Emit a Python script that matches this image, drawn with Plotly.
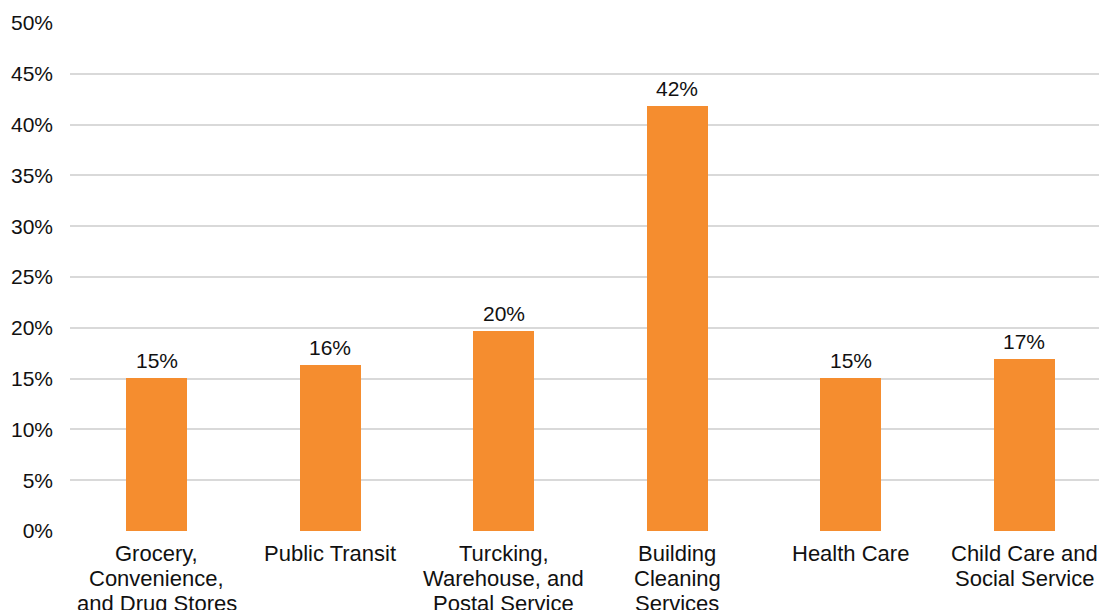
import plotly.graph_objects as go

categories = [
    "Grocery,<br>Convenience,<br>and Drug Stores",
    "Public Transit",
    "Turcking,<br>Warehouse, and<br>Postal Service",
    "Building<br>Cleaning<br>Services",
    "Health Care",
    "Child Care and<br>Social Service",
]
values = [0.1505, 0.1635, 0.197, 0.418, 0.1505, 0.1695]
y_ticks = [0, 0.05, 0.10, 0.15, 0.20, 0.25, 0.30, 0.35, 0.40, 0.45, 0.50]
y_tick_labels = ["0%", "5%", "10%", "15%", "20%", "25%", "30%", "35%", "40%", "45%", "50%"]

FONT = "Liberation Sans, Arial, Helvetica, sans-serif"
TXT = "#111111"

xs = list(range(len(categories)))

fig = go.Figure(
    go.Bar(
        x=xs,
        y=values,
        width=0.35,
        marker=dict(color="#F58D2F", line=dict(width=0)),
        hovertemplate="%{y:.1%}<extra></extra>",
    )
)

annotations = []
# value labels above bars
for x, v in zip(xs, values):
    annotations.append(dict(
        x=x, y=v, xref="x", yref="y", text=f"{v:.0%}", showarrow=False,
        yanchor="bottom", yshift=4, font=dict(family=FONT, size=21, color=TXT),
    ))
# category labels, one line each, tighter line spacing
LINE = 25
for x, cat in zip(xs, categories):
    for j, line in enumerate(cat.split("<br>")):
        annotations.append(dict(
            x=x, y=0, xref="x", yref="y", text=line, showarrow=False,
            yanchor="top", yshift=-8 - LINE * j,
            font=dict(family=FONT, size=22, color=TXT),
        ))

fig.update_layout(
    width=1099,
    height=610,
    margin=dict(l=70, r=0, t=23, b=79, autoexpand=False),
    paper_bgcolor="white",
    plot_bgcolor="white",
    showlegend=False,
    font=dict(family=FONT, size=20, color=TXT),
    bargap=0,
    annotations=annotations,
)
fig.update_xaxes(
    range=[-0.5, 5.43],
    showticklabels=False,
    showgrid=False,
    zeroline=False,
    showline=False,
    ticks="",
    automargin=False,
)
fig.update_yaxes(
    range=[0, 0.5],
    tickmode="array",
    tickvals=y_ticks,
    ticktext=y_tick_labels,
    showgrid=True,
    gridcolor="#d9d9d9",
    gridwidth=1.5,
    zeroline=False,
    showline=False,
    ticks="",
    automargin=False,
    ticklabelstandoff=16,
    tickfont=dict(family=FONT, size=21, color=TXT),
)

fig.write_html("out.html")
